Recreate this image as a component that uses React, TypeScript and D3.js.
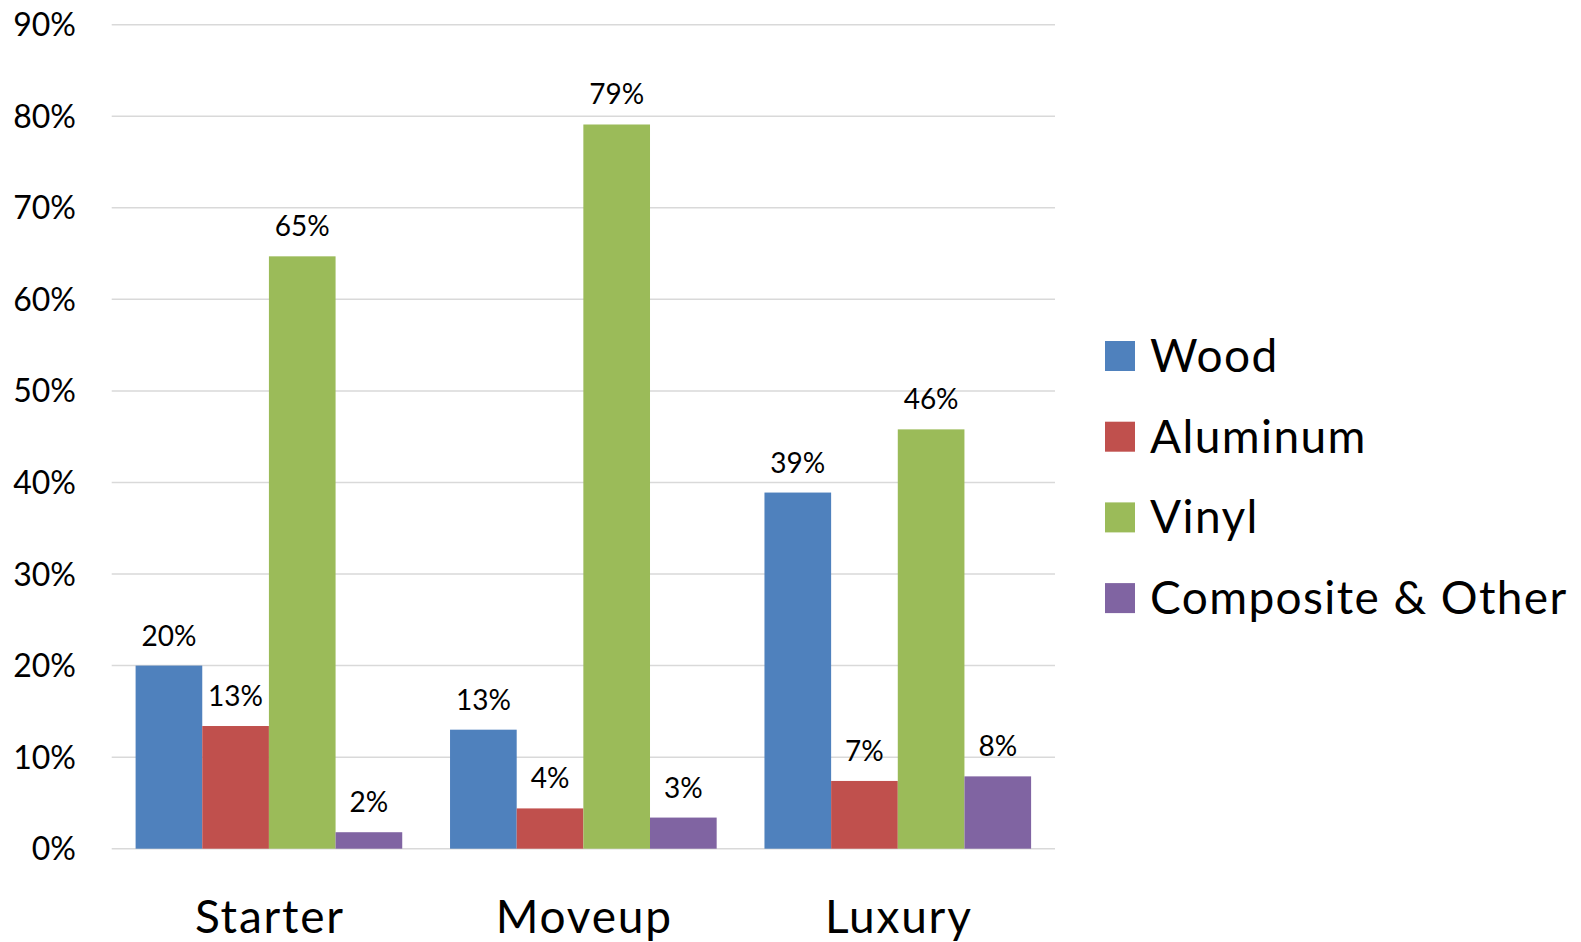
import React from "react";
import * as d3 from "d3";

const categories = ["Starter", "Moveup", "Luxury"];
const seriesNames = ["Wood", "Aluminum", "Vinyl", "Composite & Other"];
const seriesColors = ["#4F81BD", "#C0504D", "#9BBB59", "#8064A2"];
const wood = [0.2, 0.13, 0.389];
const aluminum = [0.134, 0.044, 0.074];
const vinyl = [0.647, 0.791, 0.458];
const composite = [0.018, 0.034, 0.079];
const yTicks = [0, 0.1, 0.2, 0.3, 0.4, 0.5, 0.6, 0.7, 0.8, 0.9];

const seriesValues = [wood, aluminum, vinyl, composite];

const W = 1581;
const H = 942;
const FONT = "Lato, 'Open Sans', sans-serif";

export default function App() {
  const plotLeft = 111.7;
  const plotRight = 1055;
  const y = d3.scaleLinear().domain([0, 0.9]).range([848.7, 24.7]);
  const x0 = d3.scaleBand<string>().domain(categories).range([plotLeft, plotRight]);
  const bw = x0.bandwidth();
  const off = 23.9;
  const x1 = d3.scaleBand<string>().domain(seriesNames).range([off, bw - off]);
  const fmt = d3.format(".0%");

  return (
    <svg
      width={W}
      height={H}
      style={{ position: "absolute", left: 0, top: 0, background: "#fff" }}
      fontFamily={FONT}
    >
      {yTicks.map((t) => (
        <g key={t}>
          <line x1={plotLeft} x2={plotRight} y1={y(t)} y2={y(t)} stroke="#D9D9D9" strokeWidth={1.5} />
          <text x={76} y={y(t) + 11.5} textAnchor="end" fontSize={32} fill="#000">
            {fmt(t)}
          </text>
        </g>
      ))}
      {categories.map((c, ci) => (
        <g key={c} transform={`translate(${x0(c)},0)`}>
          {seriesNames.map((s, si) => {
            const v = seriesValues[si][ci];
            const bx = x1(s) as number;
            return (
              <g key={s}>
                <rect x={bx} y={y(v)} width={x1.bandwidth()} height={y(0) - y(v)} fill={seriesColors[si]} />
                <text x={bx + x1.bandwidth() / 2} y={y(v) - 20} textAnchor="middle" fontSize={28} fill="#000">
                  {fmt(v)}
                </text>
              </g>
            );
          })}
          <text x={bw / 2 + 1} y={933.3} textAnchor="middle" fontSize={46} letterSpacing={1.8} fill="#000">
            {c}
          </text>
        </g>
      ))}
      {seriesNames.map((s, i) => (
        <g key={s} transform={`translate(1105,${341 + i * 80.7})`}>
          <rect x={0} y={0} width={30} height={30} fill={seriesColors[i]} />
          <text x={45} y={31} fontSize={46} letterSpacing={1.4} fill="#000">
            {s}
          </text>
        </g>
      ))}
    </svg>
  );
}
